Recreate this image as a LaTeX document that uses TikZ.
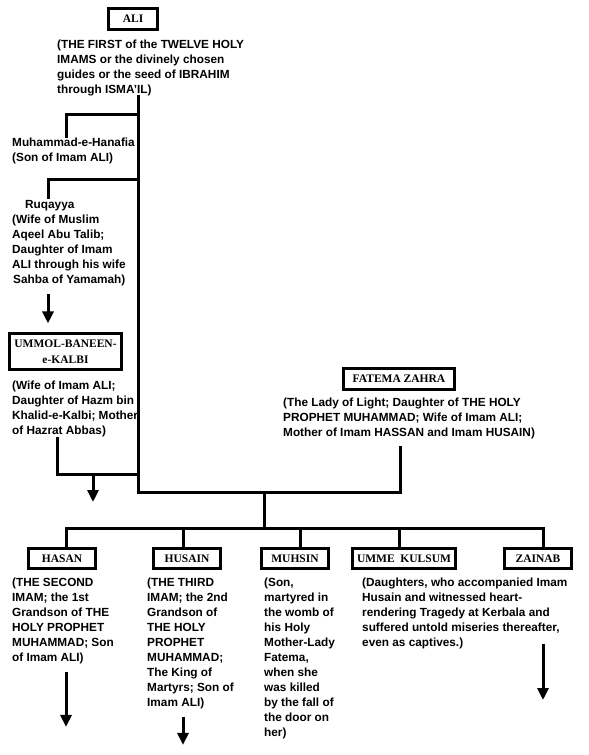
\documentclass[tikz,border=0pt]{standalone}
\usepackage{fontspec}
\setmainfont{Liberation Serif}
\newfontfamily\descfont{Liberation Sans}
\usetikzlibrary{arrows.meta, positioning}

\begin{document}
\begin{tikzpicture}[x=1pt,y=-1pt,
  person/.style={draw, line width=3pt, inner sep=0pt, minimum width=67pt, minimum height=20pt, align=center, font=\fontsize{11.5}{16}\selectfont\bfseries},
  desc/.style={anchor=north west, inner sep=0pt, align=left, font=\descfont\fontsize{11.8}{15}\selectfont\bfseries},
  link/.style={line width=3pt},
  down/.style={line width=3pt, -{Triangle[width=11pt,length=12pt]}}]
\fill[white] (0,0) rectangle (589,755);
\useasboundingbox (0,0) rectangle (589,755);

% Ali
\node[person, minimum width=49pt, minimum height=21pt] (ali) at (133,19) {ALI};
\node[desc] (alidesc) at (57,39.5) {(THE FIRST of the TWELVE HOLY\\IMAMS or the divinely chosen\\guides or the seed of IBRAHIM\\through ISMA’IL)};

% junctions on the trunk
\coordinate (top) at (138,95);
\coordinate (hanafiaj) at (138,114);
\coordinate (ruqayyaj) at (138,179);
\coordinate (ummolj) at (138,474);
\coordinate (fork) at (138,492);
\coordinate (mid) at (264,492);
\coordinate (bar) at (264,528);

% Muhammad-e-Hanafia
\node[desc] (hanafia) at (12,137.5) {Muhammad-e-Hanafia\\(Son of Imam ALI)};
\draw[link] (hanafiaj) -| ([xshift=54pt]hanafia.north west);

% Ruqayya
\node[desc] (ruqayya) at (12,200.5) {\hspace*{13pt}Ruqayya\\(Wife of Muslim\\Aqeel Abu Talib;\\Daughter of Imam\\ALI through his wife\\\hspace*{1pt}Sahba of Yamamah)};
\draw[link] (ruqayyaj) -| ([xshift=36pt,yshift=2pt]ruqayya.north west);
\draw[down] ([xshift=36pt,yshift=-8pt]ruqayya.south west) -- ++(0,29);

% Ummol-Baneen
\node[person, minimum width=112pt, minimum height=36pt] (ummol) at (65.5,351.5) {UMMOL-BANEEN-\\e-KALBI};
\node[desc] (ummoldesc) at (12,380.5) {(Wife of Imam ALI;\\Daughter of Hazm bin\\Khalid-e-Kalbi; Mother\\of Hazrat Abbas)};
\draw[link] ([xshift=45pt]ummoldesc.south west) |- (ummolj);
\draw[down] ([xshift=-45pt]ummolj) -- ++(0,28);

% Fatema Zahra
\node[person, minimum width=111pt, minimum height=21pt] (fatema) at (399,379) {FATEMA ZAHRA};
\node[desc] (fatemadesc) at (283,397.5) {(The Lady of Light; Daughter of THE HOLY\\PROPHET MUHAMMAD; Wife of Imam ALI;\\Mother of Imam HASSAN and Imam HUSAIN)};

% trunk
\draw[link] (top) -- (fork) -| ([xshift=117pt,yshift=-7pt]fatemadesc.south west);
\draw[link] (mid) -- (bar);

% children
\node[person] (hasan) at (62,558.5) {HASAN};
\node[person] (husain) at (187,558.5) {HUSAIN};
\node[person] (muhsin) at (295,558.5) {MUHSIN};
\node[person, minimum width=103pt] (umme) at (404,558.5) {UMME\ \ KULSUM};
\node[person] (zainab) at (538,558.5) {ZAINAB};
\foreach \n/\s in {hasan/4, husain/-4, muhsin/5, umme/-5, zainab/5}
  \draw[link] ([xshift=\s pt]\n.north) |- (bar);

\node[desc] (hasandesc) at (12,577.5) {(THE SECOND\\IMAM; the 1st\\Grandson of THE\\HOLY PROPHET\\MUHAMMAD; Son\\of Imam ALI)};
\node[desc] (husaindesc) at (147,577.5) {(THE THIRD\\IMAM; the 2nd\\Grandson of\\THE HOLY\\PROPHET\\MUHAMMAD;\\The King of\\Martyrs; Son of\\Imam ALI)};
\node[desc] (muhsindesc) at (264,577.5) {(Son,\\martyred in\\the womb of\\his Holy\\Mother-Lady\\Fatema,\\when she\\was killed\\by the fall of\\the door on\\her)};
\node[desc] (ummedesc) at (362,577.5) {(Daughters, who accompanied Imam\\Husain and witnessed heart-\\rendering Tragedy at Kerbala and\\suffered untold miseries thereafter,\\even as captives.)};

% lines going on
\draw[down] ([xshift=54pt,yshift=-8pt]hasandesc.south west) -- ++(0,55);
\draw[down] ([xshift=36pt,yshift=-8pt]husaindesc.south west) -- ++(0,28);
\draw[down] ([xshift=5pt,yshift=-74pt]zainab.south) -- ++(0,56);
\end{tikzpicture}
\end{document}
